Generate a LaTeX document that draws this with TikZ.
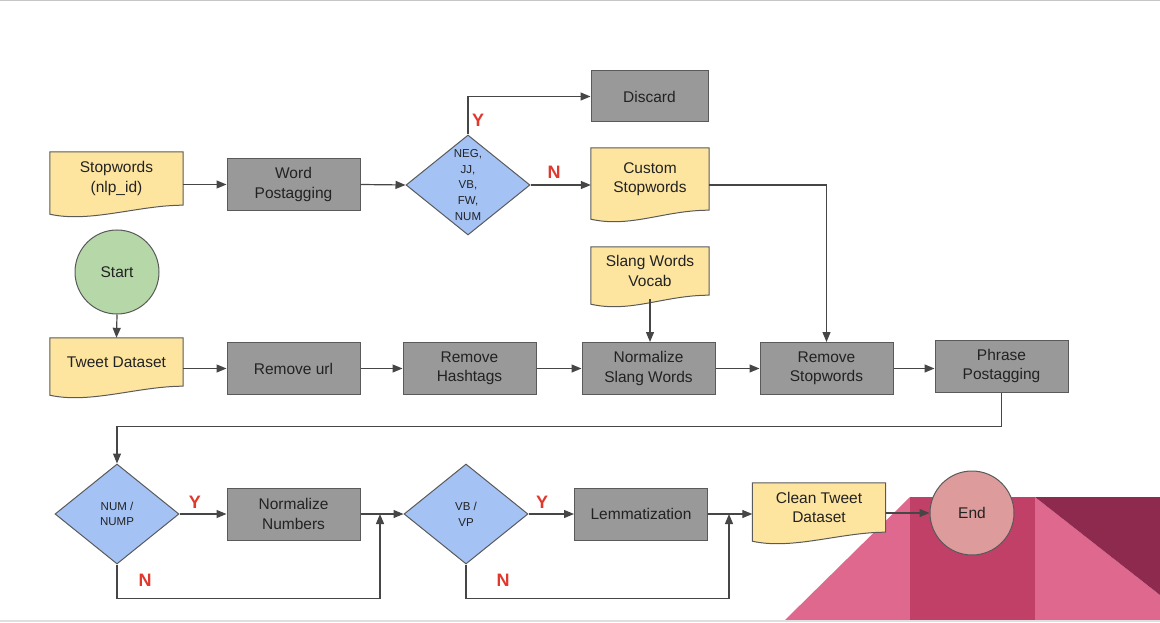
\documentclass[tikz,border=0pt]{standalone}
\usepackage{fontspec}
\setmainfont{Liberation Sans}
\usetikzlibrary{positioning,calc,shapes.geometric,arrows.meta,backgrounds}

\definecolor{boxgray}{RGB}{153,153,153}
\definecolor{linegray}{RGB}{90,90,90}
\definecolor{arrowgray}{RGB}{70,70,70}
\definecolor{textdark}{RGB}{34,34,34}
\definecolor{docyellow}{RGB}{253,229,160}
\definecolor{diablue}{RGB}{164,194,244}
\definecolor{startgreen}{RGB}{182,215,168}
\definecolor{endpink}{RGB}{221,155,155}
\definecolor{answerred}{RGB}{226,55,45}
\definecolor{pinklight}{RGB}{222,104,142}
\definecolor{pinkmid}{RGB}{192,64,104}
\definecolor{pinkdark}{RGB}{142,42,78}

% wavy bottom of a document node
\newcommand{\docshape}[1]{%
  \path[docfill] (#1.north west) -- (#1.north east) -- (#1.south east)
    .. controls ([xshift=-45pt]#1.south east) and ([xshift=40pt,yshift=-18pt]#1.south west)
    .. ([yshift=-9pt]#1.south west) -- cycle;}

\begin{document}
\begin{tikzpicture}[
    x=1pt, y=-1pt,
    font=\fontsize{15.5}{19.5}\selectfont,
    process/.style={rectangle, draw=linegray, fill=boxgray, line width=1pt, minimum width=133pt, minimum height=52pt, align=center, text=textdark},
    doc/.style={align=center, minimum width=133pt, text=textdark},
    docfill/.style={fill=docyellow, draw=linegray, line width=1pt},
    decision/.style={diamond, draw=linegray, fill=diablue, line width=1pt, minimum width=124pt, minimum height=100pt, inner sep=0pt},
    dtext/.style={align=center, text=textdark, font=\fontsize{11.5}{15.7}\selectfont},
    terminal/.style={circle, draw=linegray, line width=1pt, minimum size=84pt, text=textdark},
    flow/.style={draw=arrowgray, line width=1.2pt, -{Triangle[length=10pt,width=8pt]}},
    answer/.style={text=answerred, font=\fontsize{18}{20}\selectfont\bfseries}
]
\useasboundingbox (0,0) rectangle (1160,623);
\draw[gray!45] (0,0.5) -- (1160,0.5);
\draw[gray!25, line width=2pt] (0,621) -- (1160,621);

% Define node positions
\node[doc, minimum height=53pt] (sw) at (116.5,178.5) {Stopwords\\(nlp\_id)};
\node[process] (wp) at (293.5,184.5) {Word\\Postagging};
\node[decision, label={[dtext]center:{NEG,\\JJ,\\VB,\\FW,\\NUM}}] (d1) at (468,185) {};
\node[process, minimum width=117pt, minimum height=51pt] (discard) at (649.5,96.5) {Discard};
\node[doc, minimum width=118pt, minimum height=62pt] (cs) at (650,179) {Custom\\Stopwords};

\node[terminal, fill=startgreen] (start) at (117,272) {Start};
\node[doc, minimum width=118pt, minimum height=48pt] (sv) at (650,271) {Slang Words\\Vocab};

\node[doc, minimum height=48pt] (tw) at (116.5,362) {Tweet Dataset};
\node[process] (rurl) at (293.5,368.5) {Remove url};
\node[process] (rhash) at (469.5,368.5) {Remove\\Hashtags};
\node[process] (nslang) at (648.5,368.5) {Normalize\\Slang Words};
\node[process] (rs) at (826.5,368.5) {Remove\\Stopwords};
\node[process] (pp) at (1001.5,366) {Phrase\\Postagging};

\node[decision, label={[dtext]center:{NUM /\\NUMP}}] (d2) at (117,514) {};
\node[process] (nn) at (293.5,514) {Normalize\\Numbers};
\node[decision, label={[dtext]center:{VB /\\VP}}] (d3) at (466,514) {};
\node[process] (lem) at (641,514) {Lemmatization};
\node[doc, minimum height=49pt] (ctd) at (819,507.5) {Clean Tweet\\Dataset};
\node[terminal, fill=endpink] (end) at (972,513) {End};

\coordinate (j1) at (380,514);
\coordinate (j2) at (729,514);

% Y / N answers
\node[answer] (y1) at (478,120) {Y};
\node[answer] (n1) at (554,172) {N};
\node[answer] (y2) at (195,502) {Y};
\node[answer] (n2) at (145,580) {N};
\node[answer] (y3) at (542,502) {Y};
\node[answer] (n3) at (503,580) {N};

% Corner decoration and document shapes
\begin{scope}[on background layer]
\fill[pinklight] (785,620) -- (910,497) -- (910,620) -- cycle;
\fill[pinkmid] (910,497) rectangle (1035,620);
\fill[pinklight] (1035,497) -- (1160,595) -- (1160,620) -- (1035,620) -- cycle;
\fill[pinkdark] (1035,497) -- (1160,497) -- (1160,595) -- cycle;
\docshape{sw}
\docshape{cs}
\docshape{sv}
\docshape{tw}
\docshape{ctd}
\end{scope}

% Draw connectors
\draw[flow] (sw.east |- wp.west) -- (wp.west);
\draw[flow] (wp.east) -- (d1.west);
\draw[flow] (d1.north) |- (discard.west);
\draw[flow] (d1.east) -- (d1.east -| cs.west);
\draw[flow] (cs.east |- d1.east) -| (rs.north);
\draw[flow] (start.south) -- (tw.north);
\draw[flow] (tw.east |- rurl.west) -- (rurl.west);
\draw[flow] (rurl.east) -- (rhash.west);
\draw[flow] (rhash.east) -- (nslang.west);
\draw[flow] ([yshift=-4pt]sv.south) -- (sv.south |- nslang.north);
\draw[flow] (nslang.east) -- (rs.west);
\draw[flow] (rs.east) -- (rs.east -| pp.west);
\draw[flow] (pp.south) -- ++(0,34) -| (d2.north);
\draw[flow] (d2.east) -- (nn.west);
\draw[flow] (d2.south) -- ++(0,34) -| (j1);
\draw[flow] (nn.east) -- (d3.west);
\draw[flow] (d3.east) -- (lem.west);
\draw[flow] (d3.south) -- ++(0,34) -| (j2);
\draw[flow] (lem.east) -- (lem.east -| ctd.west);
\draw[flow] (ctd.east |- end.west) -- (end.west);

\end{tikzpicture}
\end{document}
